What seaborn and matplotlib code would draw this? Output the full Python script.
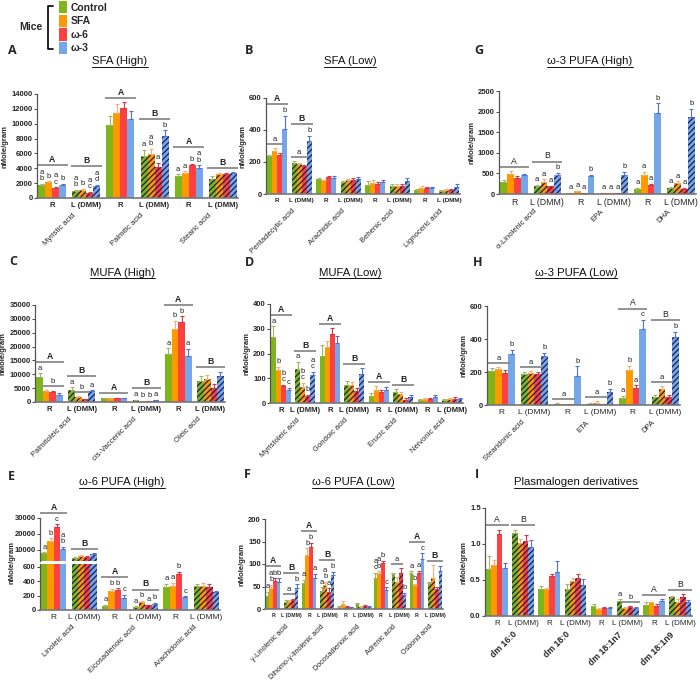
import numpy as np
import pandas as pd
import matplotlib
matplotlib.use("Agg")
import matplotlib.pyplot as plt
import seaborn as sns
from matplotlib.patches import Patch
from matplotlib.lines import Line2D
from matplotlib.ticker import FormatStrFormatter

sns.set_style("ticks")
plt.rcParams["font.family"] = ["Liberation Sans", "DejaVu Sans"]
HATCH = "#1e1e50"
plt.rcParams["hatch.color"] = HATCH
plt.rcParams["hatch.linewidth"] = 0.9

DIETS = ["Control", "SFA", "ω-6", "ω-3"]
COLORS = ["#7db51a", "#ff9900", "#ff4040", "#74a6ea"]
ERR_COLORS = ["#a3b46a", "#f5b070", "#cc3a48", "#5570cc"]
TISSUES = ["R", "L (DMM)"]

# ---------------- data (rows = groups R/L alternating, cols = diets) -------------
A_ACIDS = ["Myristic acid", "Palmitic acid", "Stearic acid"]
A_MEAN = [[1700, 2100, 1300, 1800], [1000, 1100, 700, 1600],
          [9800, 11400, 12100, 10600], [5600, 5900, 4200, 8400],
          [3000, 3300, 4400, 4000], [2600, 3200, 3200, 3400]]
A_SEM = [[200, 150, 150, 150], [100, 150, 100, 150],
         [1200, 1300, 800, 1100], [900, 700, 500, 700],
         [200, 300, 150, 400], [300, 200, 150, 100]]
A_LETTERS = {0: ["a\nb", "b", "a\nc", "b"], 1: ["a\nb", "b", "a\nc", "a\nd"],
             3: ["a", "a\nb", "a", "b"], 4: ["a", "a", "b", "a\nb"]}
A_BRACKETS = [(0, 0, 3, "A"), (1, 0, 3, "B"), (2, 0, 3, "A"), (3, 0, 3, "B"),
              (4, 0, 3, "A"), (5, 0, 3, "B")]

B_ACIDS = ["Pentadecylic acid", "Arachidic acid", "Behenic acid", "Lignoceric acid"]
B_MEAN = [[235, 270, 245, 405], [195, 185, 175, 330],
          [95, 85, 105, 100], [75, 85, 90, 95],
          [55, 70, 60, 75], [50, 50, 50, 80],
          [25, 35, 35, 40], [18, 22, 25, 45]]
B_SEM = [[10, 15, 10, 85], [10, 10, 8, 35],
         [8, 5, 5, 10], [8, 8, 8, 10],
         [25, 20, 15, 15], [10, 15, 15, 20],
         [5, 15, 8, 5], [5, 8, 5, 15]]
B_LETTERS = {0: ["", "", "", "b"], 1: ["", "", "", "b"]}
B_BRACKETS = [(0, 0, 2, "a"), (0, 0, 3, "A"), (1, 0, 2, "a"), (1, 0, 3, "B")]

G_ACIDS = ["α-Linolenic acid", "EPA", "DHA"]
G_MEAN = [[300, 490, 400, 450], [185, 300, 185, 460],
          [20, 70, 25, 430], [25, 30, 30, 470],
          [130, 470, 220, 1970], [140, 270, 130, 1860]]
G_SEM = [[40, 70, 40, 30], [30, 60, 20, 50],
         [5, 10, 5, 40], [5, 5, 5, 60],
         [15, 60, 20, 230], [40, 40, 20, 200]]
G_LETTERS = {1: ["a", "a", "a", "b"], 2: ["a", "a", "a", "b"], 3: ["a", "a", "a", "b"],
             4: ["a", "a", "a", "b"], 5: ["a", "a", "a", "b"]}
G_BRACKETS = [(0, 0, 3, "A"), (1, 0, 3, "B")]

C_ACIDS = ["Palmitoleic acid", "cis-Vaccenic acid", "Oleic acid"]
C_MEAN = [[9200, 4100, 3500, 2600], [4500, 1800, 1000, 3800],
          [1500, 1400, 1300, 1300], [700, 400, 300, 700],
          [17400, 26200, 28700, 16700], [7500, 8300, 5100, 9500]]
C_SEM = [[1200, 300, 300, 500], [800, 200, 200, 400],
         [100, 100, 100, 100], [100, 80, 80, 100],
         [2000, 3200, 2200, 2500], [1800, 1400, 1500, 1500]]
C_LETTERS = {0: ["a", "", "", ""], 1: ["a", "", "", "a"],
             3: ["a", "b", "b", "a"], 4: ["a", "b", "b", "a"]}
C_BRACKETS = [(0, 1, 3, "b"), (0, 0, 3, "A"), (1, 1, 2, "b"), (1, 0, 3, "B"),
              (2, 0, 3, "A"), (3, 0, 3, "B"), (4, 0, 3, "A"), (5, 0, 3, "B")]

D_ACIDS = ["Myristoleic acid", "Gondoic acid", "Erucic acid", "Nervonic acid"]
D_MEAN = [[265, 135, 68, 52], [137, 63, 28, 112],
          [190, 228, 278, 242], [72, 73, 47, 118],
          [30, 52, 45, 53], [45, 38, 14, 26],
          [12, 15, 15, 23], [12, 15, 18, 18]]
D_SEM = [[45, 10, 5, 10], [28, 18, 5, 15],
         [45, 22, 25, 30], [18, 12, 15, 22],
         [12, 15, 8, 12], [12, 8, 5, 8],
         [5, 5, 4, 8], [3, 5, 6, 4]]
D_LETTERS = {0: ["a", "b", "b\nc", "c"], 1: ["a", "b\nc", "b", "a\nc"]}
D_BRACKETS = [(0, 0, 3, "A"), (1, 0, 3, "B"), (2, 0, 3, "A"), (3, 0, 3, "B"),
              (4, 0, 3, "A"), (5, 0, 3, "B")]

H_ACIDS = ["Stearidonic acid", "ETA", "DPA"]
H_MEAN = [[205, 220, 195, 308], [190, 192, 190, 300],
          [8, 6, 5, 175], [8, 14, 4, 80],
          [45, 210, 105, 460], [48, 95, 50, 415]]
H_SEM = [[20, 10, 15, 25], [10, 12, 12, 18],
         [2, 2, 2, 60], [3, 8, 2, 18],
         [12, 28, 15, 55], [12, 20, 12, 30]]
H_LETTERS = {0: ["", "", "", "b"], 1: ["", "", "", "b"], 2: ["", "", "", "b"],
             3: ["", "", "", "b"], 4: ["a", "b", "a", "c"], 5: ["", "", "", "b"]}
H_BRACKETS = [(0, 0, 2, "a"), (1, 0, 2, "a"), (2, 0, 2, "a"), (3, 0, 2, "a"),
              (4, 0, 3, "A"), (5, 0, 2, "a"), (5, 0, 3, "B")]

E_ACIDS = ["Linoleic acid", "Eicosadienoic acid", "Arachidonic acid"]
E_MEAN = [[7800, 15500, 24500, 10800], [4800, 6500, 5800, 7300],
          [60, 265, 280, 170], [45, 110, 65, 90],
          [325, 340, 500, 175], [340, 335, 325, 250]]
E_SEM = [[700, 1800, 1500, 1000], [500, 600, 700, 800],
         [15, 30, 20, 45], [8, 15, 10, 8],
         [40, 40, 35, 15], [20, 40, 35, 15]]
E_LETTERS = {0: ["a", "b", "c", "a\nb"], 2: ["a", "b", "b", "c"],
             3: ["a", "b", "a", "b"], 4: ["a", "a", "b", "c"]}
E_BRACKETS = [(0, 0, 3, "A"), (1, 0, 3, "B"), (2, 0, 3, "A"), (3, 0, 3, "B")]

F_ACIDS = ["γ-Linolenic acid", "Dihomo-γ-linolenic acid", "Docosadienoic acid",
           "Adrenic acid", "Osbond acid"]
F_MEAN = [[30, 46, 63, 60], [16, 18, 20, 47],
          [57, 120, 137, 70], [40, 53, 38, 75],
          [5, 12, 5, 4], [11, 5, 6, 5],
          [68, 79, 102, 43], [77, 60, 81, 31],
          [79, 53, 80, 112], [57, 70, 44, 84]]
F_SEM = [[8, 8, 5, 8], [3, 3, 3, 8],
         [8, 15, 10, 8], [8, 8, 8, 8],
         [1, 6, 1, 1], [2, 1, 2, 2],
         [12, 5, 5, 5], [3, 12, 10, 5],
         [5, 3, 5, 12], [3, 28, 5, 12]]
F_LETTERS = {0: ["a", "a\nb", "b", "b"], 1: ["", "", "", "b"], 2: ["a", "b", "b", "a"],
             3: ["a", "a\nb", "a", "b"], 6: ["a\nc", "a\nb", "b", "c"],
             7: ["", "", "", "b"], 8: ["a", "b", "a", "c"]}
F_BRACKETS = [(0, 0, 3, "A"), (1, 0, 2, "a"), (1, 0, 3, "B"), (2, 0, 3, "A"),
              (3, 0, 3, "B"), (7, 0, 2, "a"), (8, 0, 3, "A"), (9, 0, 3, "B")]

I_ACIDS = ["dm 16:0", "dm 18:0", "dm 18:1n7", "dm 18:1n9"]
I_MEAN = [[0.65, 0.71, 1.14, 0.66], [1.15, 1.01, 1.04, 0.96],
          [0.37, 0.38, 0.56, 0.61], [0.37, 0.49, 0.53, 0.43],
          [0.14, 0.10, 0.11, 0.11], [0.21, 0.11, 0.12, 0.11],
          [0.15, 0.19, 0.14, 0.21], [0.26, 0.20, 0.26, 0.19]]
I_SEM = [[0.19, 0.07, 0.06, 0.08], [0.05, 0.06, 0.09, 0.10],
         [0.05, 0.01, 0.02, 0.16], [0.08, 0.04, 0.05, 0.08],
         [0.03, 0.01, 0.01, 0.01], [0.02, 0.02, 0.02, 0.02],
         [0.04, 0.01, 0.02, 0.02], [0.02, 0.03, 0.04, 0.03]]
I_LETTERS = {5: ["a", "", "", ""]}
I_BRACKETS = [(0, 0, 3, "A"), (1, 0, 3, "B"), (5, 1, 3, "b"), (6, 0, 3, "A"), (7, 0, 3, "B")]

# ---------------- figure ----------------
W, H = 700, 683
fig = plt.figure(figsize=(W / 100, H / 100), dpi=100)
PT = 100 / 72.0


def add_ax(l, t, r, b):
    return fig.add_axes([l / W, 1 - b / H, (r - l) / W, (b - t) / H])


def bars(ax, mean, sem):
    mean = np.asarray(mean, float)
    sem = np.asarray(sem, float)
    n = len(mean)
    rows = []
    for g in range(n):
        for h in range(4):
            rows.append({"group": str(g), "diet": DIETS[h], "value": mean[g, h]})
    df = pd.DataFrame(rows)
    sns.barplot(data=df, x="group", y="value", hue="diet",
                order=[str(g) for g in range(n)], hue_order=DIETS,
                palette=COLORS, saturation=1, errorbar=None, width=0.82,
                linewidth=0, ax=ax, legend=False)
    xs = np.zeros((n, 4))
    w = 0.2
    conts = list(ax.containers)
    for h, cont in enumerate(conts):
        for g, bar in enumerate(cont):
            xs[g, h] = bar.get_x() + bar.get_width() / 2
            w = bar.get_width()
            if g % 2 == 1:
                bar.set_hatch("//////")
                bar.set_edgecolor(HATCH)
                bar.set_linewidth(0)
    for h in range(4):
        ax.errorbar(xs[:, h], mean[:, h], yerr=[np.zeros(n), sem[:, h]], fmt="none",
                    ecolor=ERR_COLORS[h], elinewidth=0.8, capsize=1.4, capthick=0.8)
    ax.set_xlim(-0.45, n - 0.55)
    return xs, w, mean + sem


def style(ax, yticks, tick_fs=5.5, xt_fs=5.5, xt_bold=True, show_x=True, fmt=None):
    sns.despine(ax=ax)
    for s in ["left", "bottom"]:
        ax.spines[s].set_color("#555555")
        ax.spines[s].set_linewidth(0.9)
    ax.spines["bottom"].set_linewidth(1.2)
    ax.spines["bottom"].set_color("#777777")
    ax.set_yticks(yticks)
    if fmt:
        ax.yaxis.set_major_formatter(FormatStrFormatter(fmt))
    ax.tick_params(axis="y", length=2, width=0.6, labelsize=tick_fs, pad=1)
    for lb in ax.get_yticklabels():
        lb.set_fontweight("bold")
    ax.set_xlabel("")
    ax.set_ylabel("")
    if show_x:
        n = len(ax.get_xticks())
        ax.set_xticks(range(n))
        ax.set_xticklabels([TISSUES[g % 2] for g in range(n)])
        ax.tick_params(axis="x", length=0, labelsize=xt_fs, pad=3)
        for lb in ax.get_xticklabels():
            lb.set_fontweight("bold" if xt_bold else "normal")


def acid_labels(ax, acids, fs=5.5, dy=-10, bold=False):
    for k, name in enumerate(acids):
        ax.annotate(name, xy=(2 * k + 0.5, 0), xycoords=("data", "axes fraction"),
                    xytext=(2, dy), textcoords="offset points", rotation=45,
                    rotation_mode="anchor", ha="right", va="top", fontsize=fs,
                    fontweight="bold" if bold else "normal", annotation_clip=False)


def annotate(axsel, xs, w, tops, letters, brackets, bold_caps=True, lfs=5.5, bfs=6.2):
    occ = {}
    n = len(tops)
    for g in range(n):
        ax = axsel(g)
        labs = letters.get(g, ["", "", "", ""])
        for h in range(4):
            yd = ax.transData.transform((xs[g, h], tops[g][h]))[1] + 1.5 * PT
            if labs[h]:
                ax.annotate(labs[h], xy=(xs[g, h], tops[g][h]), xytext=(0, 1.2),
                            textcoords="offset points", ha="center", va="bottom",
                            fontsize=lfs, linespacing=0.85, annotation_clip=False,
                            color="#222222")
                yd += (labs[h].count("\n") + 1) * lfs * 0.95 * PT
            occ[(g, h)] = yd
    for (g, b0, b1, label) in brackets:
        ax = axsel(g)
        ymax = max(occ[(g, h)] for h in range(b0, b1 + 1)) + 1.5 * PT
        yv = ax.transData.inverted().transform((0, ymax))[1]
        x0 = xs[g, b0] - w / 2 - 0.04
        x1 = xs[g, b1] + w / 2 + 0.04
        ax.plot([x0, x1], [yv, yv], color="#8a8a8a", lw=1.3, clip_on=False,
                solid_capstyle="butt")
        bold = bold_caps and label.isupper()
        ax.annotate(label, xy=((x0 + x1) / 2, yv), xytext=(0, 0.8),
                    textcoords="offset points", ha="center", va="bottom",
                    fontsize=bfs if label.isupper() else 5.5,
                    fontweight="bold" if bold else "normal",
                    annotation_clip=False, color="#222222")
        top = ymax + (0.8 + bfs * 0.85) * PT
        for h in range(b0, b1 + 1):
            occ[(g, h)] = top


def standard(rect, acids, mean, sem, ylim, yticks, letters, brackets, bold_caps=True,
             xt_fs=5.5, xt_bold=True, fmt=None, acid_fs=5.5, acid_dy=-10, acid_bold=False):
    ax = add_ax(*rect)
    xs, w, tops = bars(ax, mean, sem)
    ax.set_ylim(*ylim)
    style(ax, yticks, xt_fs=xt_fs, xt_bold=xt_bold, fmt=fmt)
    ax.set_ylabel("nMole/gram", fontsize=5.5, fontweight="bold", labelpad=2)
    acid_labels(ax, acids, fs=acid_fs, dy=acid_dy, bold=acid_bold)
    annotate(lambda g: ax, xs, w, tops, letters, brackets, bold_caps=bold_caps)
    return ax


standard((37, 94, 238, 198), A_ACIDS, A_MEAN, A_SEM, (0, 14000), range(0, 14001, 2000),
         A_LETTERS, A_BRACKETS)
standard((266, 98, 460, 194), B_ACIDS, B_MEAN, B_SEM, (0, 600), [0, 200, 400, 600],
         B_LETTERS, B_BRACKETS, xt_fs=4.6)
standard((499, 91, 696, 194), G_ACIDS, G_MEAN, G_SEM, (0, 2500), range(0, 2501, 500),
         G_LETTERS, G_BRACKETS, bold_caps=False, xt_fs=6.3, xt_bold=False)
standard((35, 305, 225, 402), C_ACIDS, C_MEAN, C_SEM, (0, 35000), range(0, 35001, 5000),
         C_LETTERS, C_BRACKETS)
standard((270, 304, 463, 403), D_ACIDS, D_MEAN, D_SEM, (0, 400), range(0, 401, 100),
         D_LETTERS, D_BRACKETS)
standard((487, 306, 680, 405), H_ACIDS, H_MEAN, H_SEM, (0, 600), [0, 200, 400, 600],
         H_LETTERS, H_BRACKETS, bold_caps=False, xt_fs=6.0, xt_bold=False)
standard((265, 519, 443, 609), F_ACIDS, F_MEAN, F_SEM, (0, 200), range(0, 201, 50),
         F_LETTERS, F_BRACKETS, xt_fs=3.8, acid_fs=5.2)
standard((485, 508, 692, 616), I_ACIDS, I_MEAN, I_SEM, (0, 1.5), [0, 0.5, 1.0, 1.5],
         I_LETTERS, I_BRACKETS, bold_caps=False, xt_fs=5.8, xt_bold=False, fmt="%.1f",
         acid_fs=6.3, acid_bold=True)

# broken-axis panel E
axEu = add_ax(40, 518, 220, 561)
axEl = add_ax(40, 564, 220, 610)
xsE, wE, topsE = bars(axEu, E_MEAN, E_SEM)
bars(axEl, E_MEAN, E_SEM)
axEu.set_ylim(3100, 30000)
axEl.set_ylim(0, 640)
style(axEu, [10000, 20000, 30000], show_x=False)
axEu.spines["bottom"].set_visible(False)
axEu.set_xticks([])
style(axEl, [0, 200, 400, 600], xt_fs=6.0, xt_bold=False)
acid_labels(axEl, E_ACIDS)
fig.text(12 / W, 1 - 563 / H, "nMole/gram", rotation=90, ha="center", va="center",
         fontsize=5.5, fontweight="bold")
annotate(lambda g: axEu if max(topsE[g]) > 640 else axEl, xsE, wE, topsE,
         E_LETTERS, E_BRACKETS)

# titles and panel letters
TITLES = [("SFA (High)", 120, 61), ("SFA (Low)", 350, 61), ("ω-3 PUFA (High)", 590, 61),
          ("MUFA (High)", 122, 273), ("MUFA (Low)", 350, 273), ("ω-3 PUFA (Low)", 576, 273),
          ("ω-6 PUFA (High)", 122, 482), ("ω-6 PUFA (Low)", 353, 482),
          ("Plasmalogen derivatives", 576, 482)]
title_texts = []
for t, cx, cy in TITLES:
    title_texts.append(fig.text(cx / W, 1 - cy / H, t, ha="center", va="center",
                                fontsize=8.2, color="#111111"))

LETTERS = [("A", 12, 50), ("B", 249, 50), ("G", 479, 51), ("C", 13, 262), ("D", 250, 263),
           ("H", 478, 263), ("E", 11, 476), ("F", 247, 474), ("I", 477, 474)]
for t, cx, cy in LETTERS:
    fig.text(cx / W, 1 - cy / H, t, ha="center", va="center", fontsize=9,
             fontweight="bold", family=["Open Sans", "DejaVu Sans"])

# legend
handles = [Patch(facecolor=c, edgecolor="none") for c in COLORS]
fig.legend(handles, DIETS, loc="upper left", bbox_to_anchor=(59 / W, 1 - 1 / H),
           frameon=False, handlelength=0.75, handleheight=1.45, handletextpad=0.35,
           labelspacing=0.12, borderpad=0, borderaxespad=0,
           prop={"weight": "bold", "size": 7.5})
fig.text(31 / W, 1 - 27 / H, "Mice", ha="center", va="center", fontsize=7.5,
         fontweight="bold")
fig.add_artist(Line2D([53 / W, 48 / W, 48 / W, 53 / W],
                      [1 - 6 / H, 1 - 6 / H, 1 - 49 / H, 1 - 49 / H],
                      transform=fig.transFigure, color="black", lw=1.2))

# underline titles
fig.canvas.draw()
r = fig.canvas.get_renderer()
for tt in title_texts:
    bb = tt.get_window_extent(r)
    fig.add_artist(Line2D([bb.x0 / W, bb.x1 / W], [(bb.y0 - 0.5) / H, (bb.y0 - 0.5) / H],
                          transform=fig.transFigure, color="#111111", lw=0.7))

fig.savefig("out.png", dpi=100)
